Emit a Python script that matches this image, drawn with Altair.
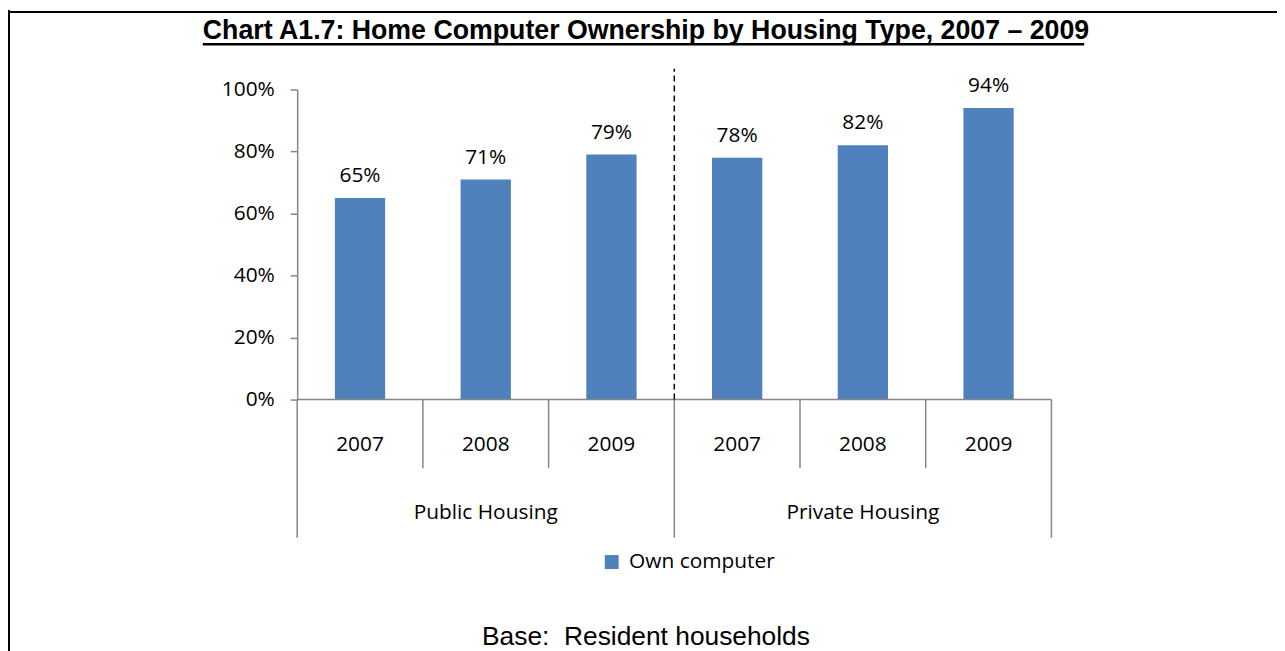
import altair as alt
import pandas as pd

# ---- data ----
groups = ["Public Housing", "Public Housing", "Public Housing",
          "Private Housing", "Private Housing", "Private Housing"]
years = ["2007", "2008", "2009", "2007", "2008", "2009"]
values = [0.65, 0.71, 0.79, 0.78, 0.82, 0.94]
series_name = "Own computer"
y_ticks = [0, 0.2, 0.4, 0.6, 0.8, 1.0]
title_text = "Chart A1.7: Home Computer Ownership by Housing Type, 2007 \u2013 2009"
footer_text = "Base:\u00a0 Resident households"

keys = [f"{g} {y}" for g, y in zip(groups, years)]
df = pd.DataFrame({"key": keys, "group": groups, "year": years,
                   "value": values, "series": series_name})

W, H = 759, 312
GRAY = "#868686"
LABEL_FONT = "Open Sans"
FS = 21

xscale = alt.Scale(domain=keys, paddingInner=0, paddingOuter=0)


def X(band=0.5):
    return alt.X("key:N", scale=xscale, sort=keys, bandPosition=band, axis=None)


bars = alt.Chart(df).mark_bar(width=alt.RelativeBandSize(0.4)).encode(
    x=X(),
    y=alt.Y("value:Q", scale=alt.Scale(domain=[0, 1], nice=False),
            axis=alt.Axis(values=y_ticks, format=".0%", tickSize=7,
                          labelPadding=16, domainColor=GRAY, tickColor=GRAY,
                          domainWidth=1.5, tickWidth=1.5,
                          labelFont=LABEL_FONT, labelFontSize=FS,
                          labelColor="black", grid=False, title=None)),
    color=alt.Color("series:N", scale=alt.Scale(range=["#4f81bd"]),
                    legend=alt.Legend(title=None, orient="none", legendX=306,
                                      legendY=465, symbolType="square",
                                      symbolSize=196, labelFont=LABEL_FONT,
                                      labelFontSize=FS, labelColor="black",
                                      padding=0, labelOffset=7,
                                      symbolStrokeWidth=0)),
)

bar_labels = alt.Chart(df).mark_text(
    dy=-16, baseline="alphabetic", font=LABEL_FONT, fontSize=FS, color="black"
).encode(x=X(), y=alt.Y("value:Q"), text=alt.Text("value:Q", format=".0%"))

year_labels = alt.Chart(df).mark_text(
    baseline="alphabetic", font=LABEL_FONT, fontSize=FS, color="black"
).encode(x=X(), y=alt.value(364), text="year:N")

group_labels = alt.Chart(df[df.year == "2008"]).mark_text(
    baseline="alphabetic", font=LABEL_FONT, fontSize=FS, color="black"
).encode(x=X(), y=alt.value(432), text="group:N")

baseline = alt.Chart(df.iloc[[0]]).mark_rule(
    color=GRAY, strokeWidth=1.5
).encode(x=alt.value(0), x2=alt.value(W), y=alt.datum(0))

short_sep = alt.Chart(df[df.year != "2007"]).mark_rule(
    color=GRAY, strokeWidth=1.5
).encode(x=X(0), y=alt.datum(0), y2=alt.value(381))

long_sep = alt.Chart(df[df.year == "2007"]).mark_rule(
    color=GRAY, strokeWidth=1.5
).encode(x=X(0), y=alt.datum(0), y2=alt.value(451))

end_sep = alt.Chart(df.iloc[[-1]]).mark_rule(
    color=GRAY, strokeWidth=1.5
).encode(x=X(1), y=alt.datum(0), y2=alt.value(451))

divider = alt.Chart(df[(df.year == "2007") & (df.group == "Private Housing")]).mark_rule(
    color="black", strokeWidth=1.5, strokeDash=[6, 4]
).encode(x=X(0), y=alt.datum(0), y2=alt.value(-21))

one = alt.Data(values=[{"t": 1}])

title = alt.Chart(one).mark_text(
    font="Liberation Sans", fontWeight="bold", fontSize=26.9,
    baseline="alphabetic", align="center", color="black"
).encode(x=alt.value(351), y=alt.value(-51), text=alt.value(title_text))

underline = alt.Chart(one).mark_rule(color="black", strokeWidth=2.5).encode(
    x=alt.value(-95), x2=alt.value(792), y=alt.value(-45.5))

footer = alt.Chart(one).mark_text(
    font="Liberation Sans", fontSize=26.5, baseline="alphabetic",
    align="center", color="black"
).encode(x=alt.value(351), y=alt.value(559), text=alt.value(footer_text))

frame_top = alt.Chart(one).mark_rule(color="black", strokeWidth=2).encode(
    x=alt.value(-291), x2=alt.value(1100), y=alt.value(-78))
frame_left = alt.Chart(one).mark_rule(color="black", strokeWidth=2).encode(
    x=alt.value(-290), y=alt.value(-80), y2=alt.value(700))

chart = alt.layer(
    frame_top, frame_left, bars, bar_labels, baseline, short_sep, long_sep,
    end_sep, divider, year_labels, group_labels, title, underline, footer
).properties(
    width=W, height=H,
    autosize=alt.AutoSizeParams(type="none"),
    padding={"left": 291, "top": 80, "right": 227, "bottom": 251},
).configure(background="white").configure_view(stroke=None)

chart.save("out.html", embed_options={"renderer": "svg", "actions": False})
